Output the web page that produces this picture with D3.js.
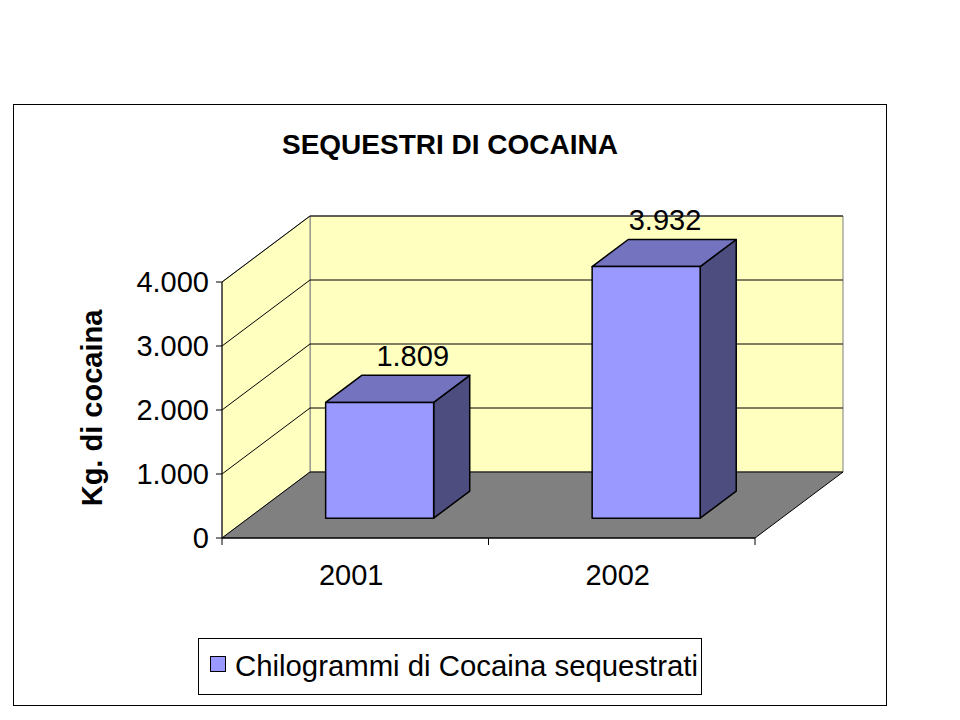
<!DOCTYPE html>
<html><head><meta charset="utf-8">
<script src="https://cdn.jsdelivr.net/npm/d3@7"></script>
<style>body{margin:0;background:#fff}svg{display:block}</style>
</head><body>
<script>
const categories = ["2001", "2002"];
const values = [1809, 3932];
const valueLabels = ["1.809", "3.932"];
const yTicks = [0, 1000, 2000, 3000, 4000];
const yTickLabels = ["0", "1.000", "2.000", "3.000", "4.000"];
const seriesName = "Chilogrammi di Cocaina sequestrati";

const width = 960, height = 720;
const font = "Arial, 'Liberation Sans', sans-serif";
const fs = 29;
const dx = 88, dy = -66; // full depth offset
const x0 = 222, x1 = 755, yBase = 538;

const svg = d3.create("svg").attr("width", width).attr("height", height);

svg.append("rect").attr("x", 13.5).attr("y", 104.5).attr("width", 873).attr("height", 601)
  .attr("fill", "#fff").attr("stroke", "#000");

svg.append("text").attr("x", 450).attr("y", 154).attr("text-anchor", "middle")
  .attr("font-family", font).attr("font-weight", "bold").attr("font-size", 28)
  .text("SEQUESTRI DI COCAINA");

const y = d3.scaleLinear().domain([0, 4000]).range([yBase, yBase - 256]);
const x = d3.scaleBand().domain(categories).range([x0, x1]);
// project (px, py) at depth fraction d in [0,1]
const P = (px, py, d) => [px + dx * d, py + dy * d];
const poly = pts => "M" + pts.map(p => p.join(",")).join("L") + "Z";

// back wall
svg.append("path").attr("d", poly([P(x0, y(0), 1), P(x1, y(0), 1), P(x1, y(4000), 1), P(x0, y(4000), 1)]))
  .attr("fill", "#ffffc0").attr("stroke", "#808080");
// left wall
svg.append("path").attr("d", poly([P(x0, y(0), 0), P(x0, y(0), 1), P(x0, y(4000), 1), P(x0, y(4000), 0)]))
  .attr("fill", "#ffffc0").attr("stroke", "#808080");
// floor
svg.append("path").attr("d", poly([P(x0, y(0), 0), P(x1, y(0), 0), P(x1, y(0), 1), P(x0, y(0), 1)]))
  .attr("fill", "#808080").attr("stroke", "#000");

// gridlines
const grid = svg.append("g").attr("stroke", "#000").attr("fill", "none");
yTicks.slice(1).forEach(t => {
  grid.append("path").attr("d", "M" + P(x0, y(t), 0) + "L" + P(x0, y(t), 1) + "L" + P(x1, y(t), 1));
});

// axes
const ax = svg.append("g").attr("stroke", "#000");
ax.append("line").attr("x1", x0).attr("x2", x0).attr("y1", y(4000)).attr("y2", y(0));
ax.append("line").attr("x1", x0).attr("x2", x1).attr("y1", y(0)).attr("y2", y(0));
yTicks.forEach(t => ax.append("line").attr("x1", x0 - 6).attr("x2", x0).attr("y1", y(t)).attr("y2", y(t)));
[x0, x0 + x.bandwidth(), x1].forEach(v => ax.append("line").attr("x1", v).attr("x2", v).attr("y1", y(0)).attr("y2", y(0) + 7));

svg.append("g").attr("font-family", font).attr("font-size", fs).attr("text-anchor", "end")
  .selectAll("text").data(yTicks).join("text")
  .attr("x", x0 - 13).attr("y", d => y(d) + 10).text((d, i) => yTickLabels[i]);

svg.append("g").attr("font-family", font).attr("font-size", fs).attr("text-anchor", "middle")
  .selectAll("text").data(categories).join("text")
  .attr("x", d => x(d) + x.bandwidth() / 2 - 4).attr("y", 585).text(d => d);

svg.append("text").attr("transform", "translate(102,408) rotate(-90)").attr("text-anchor", "middle")
  .attr("font-family", font).attr("font-weight", "bold").attr("font-size", fs).text("Kg. di cocaina");

// bars
const dFront = 0.3, dBack = 0.71, bw = 108;
categories.forEach((c, i) => {
  const cx = x(c) + x.bandwidth() / 2 - 2;
  const l = cx - bw / 2, r = cx + bw / 2;
  const h = y(values[i]) - y(0);
  const b = y(0), t = y(0) + h;
  const g = svg.append("g").attr("stroke", "#000").attr("stroke-width", 1.5).attr("stroke-linejoin", "round");
  g.append("path").attr("d", poly([P(r, b, dFront), P(r, b, dBack), P(r, t, dBack), P(r, t, dFront)])).attr("fill", "#4d4d80");
  g.append("path").attr("d", poly([P(l, t, dFront), P(r, t, dFront), P(r, t, dBack), P(l, t, dBack)])).attr("fill", "#7373bf");
  g.append("path").attr("d", poly([P(l, b, dFront), P(r, b, dFront), P(r, t, dFront), P(l, t, dFront)])).attr("fill", "#9999ff");
  const lp = P(cx, t, dBack);
  // keep label inside the plot frame
  svg.append("text").attr("x", Math.min(lp[0] - 3, x1 + dx - 178)).attr("y", lp[1] - 9).attr("text-anchor", "middle")
    .attr("font-family", font).attr("font-size", fs).text(valueLabels[i]);
});

// legend
svg.append("rect").attr("x", 198.5).attr("y", 638.5).attr("width", 503).attr("height", 56)
  .attr("fill", "#fff").attr("stroke", "#000");
svg.append("rect").attr("x", 210.5).attr("y", 656.5).attr("width", 15).attr("height", 15)
  .attr("fill", "#9999ff").attr("stroke", "#000");
svg.append("text").attr("x", 235).attr("y", 676).attr("font-family", font).attr("font-size", fs)
  .attr("textLength", 463).attr("lengthAdjust", "spacingAndGlyphs").text(seriesName);

document.body.appendChild(svg.node());
</script>
</body></html>
